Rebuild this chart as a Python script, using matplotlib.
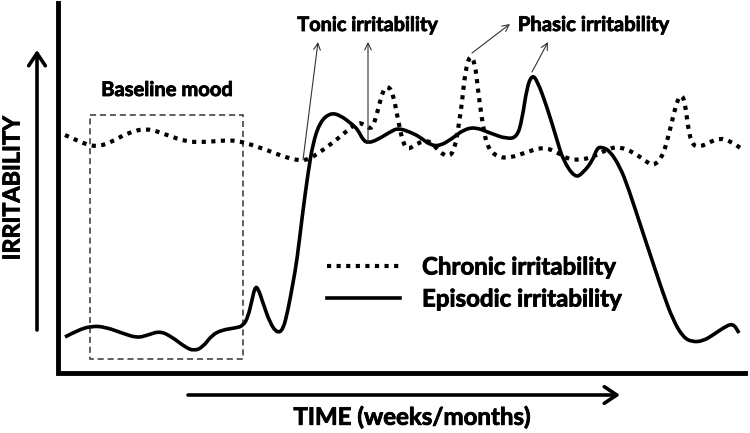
import matplotlib
matplotlib.use('Agg')
import matplotlib.pyplot as plt
import matplotlib.patheffects as pe
from matplotlib.path import Path
from matplotlib.patches import PathPatch, Rectangle
import numpy as np

## points (pixel coords, y grows downward)
chronic_x = [65, 80, 95, 110, 127, 147, 167, 187, 207, 230, 243, 267, 287, 303, 313, 327,
             340, 357, 365, 372, 378, 383, 388, 393, 398, 403, 408, 417, 430, 440, 450, 455,
             458, 462, 465, 470, 475, 478, 482, 487, 497, 510, 527, 543, 557, 567, 580, 593,
             610, 620, 633, 647, 653, 662, 668, 673, 678, 682, 685, 688, 692, 700, 710, 720,
             730, 742]
chronic_y = [135, 142, 147, 143, 133, 128, 135, 142, 142, 140, 142, 150, 158, 161, 157, 147,
             137, 122, 125, 130, 110, 90, 86, 93, 120, 143, 150, 143, 140, 153, 157, 147,
             130, 103, 73, 54, 63, 90, 120, 147, 157, 158, 152, 147, 152, 159, 160, 157,
             148, 147, 152, 162, 166, 158, 138, 117, 98, 95, 103, 127, 145, 147, 142, 138,
             141, 149]

episodic_x = [65, 78, 92, 105, 122, 137, 148, 160, 172, 185, 194, 203, 212, 222, 235, 243,
              248, 252, 255, 258, 263, 270, 277, 283, 288, 293, 297, 302, 308, 313, 320, 330,
              340, 353, 358, 363, 368, 377, 390, 398, 410, 420, 430, 440, 453, 463, 475, 490,
              507, 517, 522, 527, 532, 537, 547, 557, 563, 575, 583, 593, 597, 602, 610, 620,
              628, 643, 653, 663, 673, 683, 692, 703, 713, 723, 733, 739]
episodic_y = [337, 330, 326, 327, 333, 338, 335, 331, 337, 347, 351, 347, 335, 330, 328, 326,
              317, 300, 287, 288, 303, 323, 333, 330, 310, 283, 260, 218, 173, 143, 122, 113,
              115, 125, 130, 140, 143, 140, 132, 128, 132, 137, 145, 146, 138, 130, 127, 133,
              139, 137, 120, 87, 75, 80, 107, 140, 160, 178, 173, 160, 148, 147, 151, 167,
              187, 233, 263, 293, 320, 337, 342, 341, 335, 328, 323, 333]

series_labels = ['Chronic irritability', 'Episodic irritability']

FONT = ['Lato', 'DejaVu Sans']
BOLDER = [pe.withStroke(linewidth=0.6, foreground='black')]


def smooth_path(xs, ys):
    # quadratic pieces through midpoints -> smooth line drawn by matplotlib
    pts = np.column_stack([xs, ys]).astype(float)
    verts = [pts[0]]
    codes = [Path.MOVETO]
    for i in range(1, len(pts) - 1):
        mid = (pts[i] + pts[i + 1]) / 2
        verts += [pts[i], mid]
        codes += [Path.CURVE3, Path.CURVE3]
    verts.append(pts[-1])
    codes.append(Path.LINETO)
    return Path(verts, codes)


def label(x, y, s, size, **kw):
    ax.text(x, y, s, fontsize=size, weight='bold', family=FONT, path_effects=BOLDER, **kw)


fig = plt.figure(figsize=(7.5, 4.33), dpi=100)
ax = fig.add_axes([0, 0, 1, 1])
ax.set_xlim(0, 750)
ax.set_ylim(433, 0)
ax.axis('off')

# main axes lines
ax.plot([58, 58, 745], [3, 373, 373], color='black', lw=3.5, solid_joinstyle='miter')

# baseline box
ax.add_patch(Rectangle((90, 115), 153, 244, fill=False, ls=(0, (4, 2.5)), lw=1.1, ec='#333333'))
label(167, 90, 'Baseline mood', 14.5, ha='center', va='center')

# curves
ax.add_patch(PathPatch(smooth_path(chronic_x, chronic_y), fill=False, lw=3.0,
                       ls=(0, (1, 1.3)), capstyle='butt', ec='black'))
ax.add_patch(PathPatch(smooth_path(episodic_x, episodic_y), fill=False, lw=2.6, ec='black'))

# legend
ax.plot([327, 400], [266, 266], color='black', lw=3.0, ls=(0, (1, 1.3)), dash_capstyle='butt')
ax.plot([327, 400], [298, 298], color='black', lw=2.6)
label(422, 267, series_labels[0], 17.3, ha='left', va='center')
label(422, 299, series_labels[1], 17.3, ha='left', va='center')

# annotation labels + arrows
label(368, 25, 'Tonic irritability', 14.3, ha='center', va='center')
label(594, 25, 'Phasic irritability', 14.6, ha='center', va='center')
thin = dict(arrowstyle='->', lw=0.8, color='#333333', shrinkA=0, shrinkB=0, mutation_scale=12)
ax.annotate('', xy=(318, 42), xytext=(303, 160), arrowprops=thin)
ax.annotate('', xy=(368, 42), xytext=(368, 142), arrowprops=thin)
ax.annotate('', xy=(510, 24), xytext=(472, 53), arrowprops=thin)
ax.annotate('', xy=(548, 42), xytext=(532, 72), arrowprops=thin)

# direction arrows
thick = dict(arrowstyle='->,head_length=0.45,head_width=0.3', lw=2.6, color='black',
             shrinkA=0, shrinkB=0, mutation_scale=20)
ax.annotate('', xy=(37, 50), xytext=(37, 330), arrowprops=thick)
ax.annotate('', xy=(620, 395), xytext=(188, 395), arrowprops=thick)

label(13, 188, 'IRRITABILITY', 16.8, rotation=90, ha='center', va='center')
label(412, 417, 'TIME (weeks/months)', 17.3, ha='center', va='center')

fig.savefig('out.png', dpi=100)
